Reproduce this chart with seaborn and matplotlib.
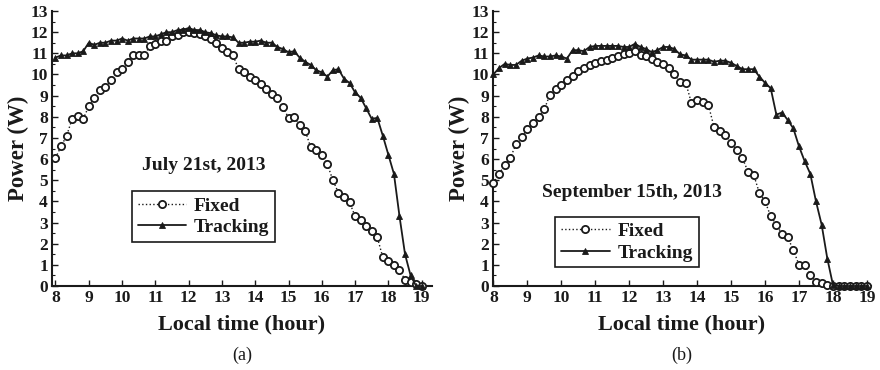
import numpy as np
import pandas as pd
import matplotlib
matplotlib.use("Agg")
import matplotlib.pyplot as plt
import seaborn as sns

# ---- data (10-minute samples, 8:00 to 19:00) ----
time_minutes = list(range(480, 1141, 10))

fixed_jul = [6.05, 6.6, 7.1, 7.9, 8.05, 7.9,
             8.5, 8.9, 9.25, 9.4, 9.75, 10.1,
             10.25, 10.6, 10.9, 10.9, 10.9, 11.35,
             11.45, 11.6, 11.6, 11.8, 11.85, 12.0,
             12.0, 11.95, 11.9, 11.8, 11.7, 11.5,
             11.25, 11.05, 10.9, 10.25, 10.1, 9.9,
             9.75, 9.55, 9.3, 9.1, 8.9, 8.45,
             7.95, 8.0, 7.6, 7.35, 6.55, 6.45,
             6.2, 5.75, 5.0, 4.4, 4.2, 3.95,
             3.3, 3.1, 2.85, 2.6, 2.3, 1.35,
             1.2, 1.0, 0.75, 0.3, 0.2, 0.1,
             0.0]
tracking_jul = [10.8, 10.9, 10.9, 11.0, 11.0, 11.1,
                11.5, 11.4, 11.5, 11.5, 11.6, 11.6,
                11.7, 11.6, 11.7, 11.7, 11.7, 11.8,
                11.8, 11.9, 12.0, 12.0, 12.1, 12.1,
                12.2, 12.1, 12.1, 12.0, 11.95, 11.85,
                11.8, 11.8, 11.75, 11.5, 11.5, 11.55,
                11.55, 11.6, 11.5, 11.5, 11.3, 11.2,
                11.05, 11.1, 10.8, 10.6, 10.45, 10.2,
                10.1, 9.9, 10.2, 10.25, 9.8, 9.6,
                9.15, 8.9, 8.4, 7.9, 7.95, 7.1,
                6.2, 5.3, 3.3, 1.5, 0.5, 0.0,
                0.0]
fixed_sep = [4.85, 5.3, 5.7, 6.05, 6.7, 7.05,
             7.4, 7.7, 8.0, 8.35, 9.05, 9.3,
             9.5, 9.75, 9.95, 10.15, 10.3, 10.45,
             10.55, 10.65, 10.7, 10.8, 10.85, 10.95,
             11.0, 11.1, 10.9, 10.85, 10.75, 10.6,
             10.5, 10.3, 10.0, 9.65, 9.6, 8.65,
             8.8, 8.7, 8.55, 7.5, 7.35, 7.15,
             6.75, 6.45, 6.05, 5.4, 5.25, 4.4,
             4.0, 3.3, 2.9, 2.45, 2.3, 1.7,
             1.0, 1.0, 0.5, 0.2, 0.15, 0.05,
             0.0, 0.0, 0.0, 0.0, 0.0, 0.0,
             0.0]
tracking_sep = [10.0, 10.3, 10.5, 10.45, 10.45, 10.65,
                10.75, 10.8, 10.9, 10.85, 10.85, 10.9,
                10.85, 10.75, 11.15, 11.15, 11.1, 11.3,
                11.35, 11.35, 11.35, 11.35, 11.35, 11.3,
                11.3, 11.45, 11.3, 11.2, 11.05, 11.15,
                11.3, 11.3, 11.2, 10.95, 10.9, 10.7,
                10.7, 10.7, 10.7, 10.6, 10.65, 10.65,
                10.55, 10.4, 10.25, 10.25, 10.25, 9.9,
                9.6, 9.35, 8.1, 8.2, 7.85, 7.45,
                6.6, 5.9, 5.3, 4.0, 2.9, 1.3,
                0.05, 0.0, 0.0, 0.0, 0.0, 0.0,
                0.0]

x_ticks = list(range(8, 20))
y_ticks = list(range(0, 14))
titles = ["July 21st, 2013", "September 15th, 2013"]
captions = ["(a)", "(b)"]
series_names = ["Fixed", "Tracking"]

# ---- style ----
sns.set_theme(style="ticks")
plt.rcParams["font.family"] = ["Liberation Serif", "DejaVu Serif"]
plt.rcParams["font.weight"] = "bold"
plt.rcParams["axes.labelweight"] = "bold"

fig = plt.figure(figsize=(8.8, 3.7), dpi=100)
ax_a = fig.add_axes([52 / 880, 1 - 286 / 370, 380 / 880, 275 / 370])
ax_b = fig.add_axes([493 / 880, 1 - 286 / 370, 378 / 880, 275 / 370])

hours = np.array(time_minutes) / 60.0
panels = [
    (ax_a, fixed_jul, tracking_jul, (7.895, 19.31), (12.44, 5.72),
     (133, 189, 274, 244)),
    (ax_b, fixed_sep, tracking_sep, (7.99, 19.12), (12.08, 4.4),
     (556, 216, 698, 268)),
]

ink = "#1a1a1a"
for i, (ax, fx, tr, xl, tpos, box) in enumerate(panels):
    df = pd.DataFrame({"hour": hours, "Fixed": fx, "Tracking": tr})
    sns.lineplot(data=df, x="hour", y="Fixed", ax=ax, color=ink,
                 linestyle=":", linewidth=1.0, marker="o", markersize=5.2,
                 markerfacecolor="white", markeredgecolor=ink,
                 markeredgewidth=1.3, label="Fixed", clip_on=False, zorder=3)
    sns.lineplot(data=df, x="hour", y="Tracking", ax=ax, color=ink,
                 linestyle="-", linewidth=1.3, marker="^", markersize=5.0,
                 markerfacecolor=ink, markeredgecolor=ink,
                 markeredgewidth=0.6, label="Tracking", clip_on=False, zorder=4)

    ax.set_xlim(*xl)
    ax.set_ylim(0, 13)
    ax.set_xticks(x_ticks)
    ax.set_yticks(y_ticks)
    ax.set_yticks(np.arange(0.5, 13, 1.0), minor=True)
    ax.tick_params(axis="both", which="major", direction="in", length=4,
                   width=1.0, labelsize=12.5, pad=3, colors=ink)
    ax.tick_params(axis="y", which="minor", direction="in", length=2.5,
                   width=0.8, colors=ink)
    for lab in ax.get_xticklabels() + ax.get_yticklabels():
        lab.set_fontweight("bold")
    sns.despine(ax=ax, top=True, right=True)
    for s in ("left", "bottom"):
        ax.spines[s].set_linewidth(1.5)
        ax.spines[s].set_color(ink)

    ax.set_xlabel("Local time (hour)", fontsize=16, fontweight="bold",
                  color=ink, labelpad=6)
    ax.set_ylabel("Power (W)", fontsize=16.5, fontweight="bold",
                  color=ink, labelpad=1)
    ax.text(tpos[0], tpos[1], titles[i], ha="center", va="center",
            fontsize=14, fontweight="bold", color=ink)

    # legend placed by pixel box
    x0, y0, x1, y1 = box
    bbox = (x0 / 880, 1 - y1 / 370, (x1 - x0) / 880, (y1 - y0) / 370)
    leg = ax.legend(loc="center", bbox_to_anchor=bbox,
                    bbox_transform=fig.transFigure, frameon=True,
                    fancybox=False, edgecolor=ink, framealpha=1,
                    prop={"weight": "bold", "size": 14}, handlelength=2.5,
                    handletextpad=0.4, borderpad=0.3, labelspacing=0.2,
                    numpoints=1)
    leg.get_frame().set_linewidth(1.2)
    for t in leg.get_texts():
        t.set_color(ink)

    cx = (ax.get_position().x0 + ax.get_position().x1) / 2
    fig.text(cx, 1 - 355 / 370, captions[i], ha="center", va="center",
             fontsize=13, fontweight="normal", color=ink)

fig.savefig("out.png", dpi=100)
